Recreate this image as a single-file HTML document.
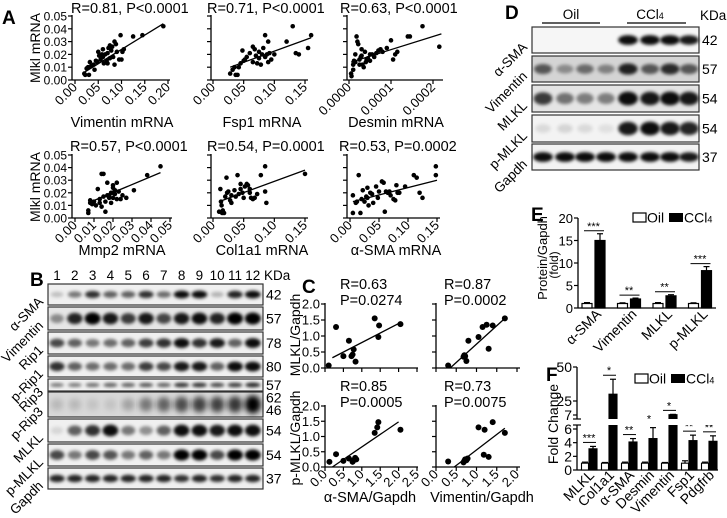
<!DOCTYPE html>
<html><head><meta charset="utf-8">
<style>
html,body{margin:0;padding:0;background:#fff;}
svg{display:block;font-family:"Liberation Sans",Arial,sans-serif;}
</style></head>
<body>
<svg id="fig" width="727" height="518" viewBox="0 0 727 518" xmlns="http://www.w3.org/2000/svg">
<defs><filter id="blur" x="-20%" y="-50%" width="140%" height="200%"><feGaussianBlur stdDeviation="1.6"/></filter>
<filter id="blur2" x="-20%" y="-50%" width="140%" height="200%"><feGaussianBlur stdDeviation="3"/></filter></defs>
</svg>
<script>
// ---------- Panel A data ----------
const a1X=[.02,.022,.025,.028,.03,.032,.035,.04,.042,.045,.048,.05,.052,.055,.058,.06,.062,.065,.068,.07,.072,.075,.075,.078,.08,.082,.085,.088,.09,.095,.098,.1,.102,.105,.125,.145,.19,.06,.07,.085];
const a1Y=[.005,.004,.009,.01,.004,.014,.011,.012,.008,.015,.014,.022,.019,.016,.02,.018,.013,.02,.015,.021,.025,.027,.017,.023,.026,.018,.03,.028,.022,.016,.035,.016,.022,.024,.034,.035,.042,.024,.013,.012];
const a1Fit=[.02,.006,.19,.044];
const a2X=[.028,.032,.035,.037,.04,.042,.045,.048,.05,.052,.055,.06,.065,.068,.07,.072,.075,.078,.08,.082,.085,.085,.088,.09,.09,.092,.095,.1,.12,.13,.135,.14,.155,.16,.065,.075];
const a2Y=[.005,.008,.01,.004,.004,.01,.013,.023,.015,.016,.018,.021,.026,.024,.019,.013,.017,.012,.02,.025,.035,.018,.02,.03,.014,.021,.016,.02,.03,.042,.021,.02,.025,.035,.014,.022];
const a2Fit=[.028,.01,.16,.033];
const a3X=[.05,.06,.1,.1,.12,.15,.18,.2,.22,.25,.25,.28,.3,.32,.35,.38,.4,.42,.45,.5,.55,.6,.65,.7,.75,.8,.9,1.0,1.05,1.1,1.15,1.4,1.45,1.75,2.15,.3,.5,.15];
const a3Y=[.005,.003,.008,.012,.015,.02,.034,.03,.028,.016,.012,.018,.019,.012,.01,.022,.014,.016,.017,.015,.02,.018,.021,.023,.024,.022,.025,.031,.016,.02,.022,.034,.034,.042,.026,.024,.02,.014];
const a3Fit=[.05,.014,2.2,.036];
const a4X=[.007,.007,.008,.008,.009,.01,.011,.012,.013,.014,.015,.016,.017,.018,.019,.02,.021,.022,.023,.015,.016,.014,.017,.018,.019,.02,.021,.022,.024,.025,.027,.031,.038,.045,.013,.02,.02];
const a4Y=[.004,.006,.014,.012,.011,.013,.01,.023,.015,.035,.035,.005,.028,.016,.02,.026,.022,.028,.021,.017,.013,.009,.018,.018,.012,.016,.019,.015,.015,.018,.016,.022,.034,.041,.012,.024,.02];
const a4Fit=[.007,.012,.045,.036];
const a5X=[.01,.012,.013,.014,.015,.016,.018,.02,.022,.023,.025,.028,.03,.035,.037,.04,.042,.045,.048,.05,.052,.055,.057,.06,.062,.065,.068,.072,.078,.085,.085,.087,.15,.03,.06,.045];
const a5Y=[.005,.023,.013,.01,.004,.006,.004,.017,.032,.02,.021,.014,.018,.022,.017,.034,.019,.023,.02,.016,.025,.027,.026,.023,.016,.015,.016,.019,.034,.041,.021,.012,.035,.012,.02,.027];
const a5Fit=[.01,.013,.15,.038];
const a6X=[.005,.005,.01,.012,.015,.018,.02,.022,.025,.028,.03,.032,.035,.038,.04,.045,.048,.05,.055,.058,.06,.062,.068,.07,.075,.078,.08,.082,.085,.095,.11,.115,.12,.125,.148,.148,.03,.065];
const a6Y=[.004,.018,.012,.013,.034,.004,.015,.022,.013,.017,.016,.01,.02,.019,.012,.025,.016,.021,.029,.028,.005,.021,.021,.018,.015,.014,.026,.02,.02,.025,.034,.032,.02,.016,.041,.034,.024,.02];
const a6Fit=[.005,.013,.15,.03];
// ---------- Panel C data ----------
const c1X=[0.1,0.3,0.5,0.65,0.72,0.75,0.78,0.83,1.35,1.45,1.47,2.05];
const c1Y=[0.08,1.28,0.37,0.85,0.37,0.42,0.58,0.2,1.55,0.97,1.33,1.37];
const c1Fit=[0.2,0.32,2.05,1.42];
const c2X=[0.3,0.7,0.72,0.75,0.8,1.05,1.15,1.25,1.3,1.4,1.7,0.68];
const c2Y=[0.08,0.4,0.37,0.22,0.85,0.97,1.28,1.35,0.6,1.33,1.55,0.35];
const c2Fit=[0.35,0,1.7,1.55];
const c3X=[0.12,0.3,0.5,0.65,0.75,0.78,0.82,0.85,1.35,1.42,1.45,2.05];
const c3Y=[0.17,0.42,0.2,0.28,0.17,0.22,0.3,0.25,1.12,1.3,1.47,1.22];
const c3Fit=[0.2,0,2.0,1.48];
const c4X=[0.3,0.68,0.7,0.72,0.78,1.05,1.2,1.18,1.3,1.4,1.7,0.75];
const c4Y=[0.18,0.15,0.2,0.25,0.28,1.3,1.22,0.4,0.33,1.47,1.12,0.22];
const c4Fit=[0.45,0,1.7,1.27];
// ---------- Panel E data ----------
const eCats=['α-SMA','Vimentin','MLKL','p-MLKL'];
const eOil=[1,1,1,1];
const eOilErr=[0.2,0.15,0.2,0.15];
const eCcl=[15,2,2.7,8.3];
const eCclErr=[1.5,0.2,0.25,0.9];
const eStars=['***','**','**','***'];
const eTicks=[0,5,10,15,20];
// ---------- Panel F data ----------
const fCats=['MLKL','Col1a1','α-SMA','Desmin','Vimentin','Fsp1','Pdgfrb'];
const fOil=[1,1,1,1,1,1,1];
const fOilErr=[0.15,0.1,0.15,0.15,0.1,0.35,0.15];
const fCcl=[3.1,30,4.1,4.6,7.4,4.3,4.2];
const fCclErr=[0.35,11,0.5,1.6,0.4,0.8,0.8];
const fStars=['***','*','**','*','*','**','**'];
const fTicksLow=[0,2,4,6];
const fTicksHigh=[7,25,50];

const NS='http://www.w3.org/2000/svg';
const svg=document.getElementById('fig');
function mk(tag,attrs,parent){const e=document.createElementNS(NS,tag);for(const k in attrs)e.setAttribute(k,attrs[k]);(parent||svg).appendChild(e);return e;}
function txt(s,x,y,attrs,parent){const t=mk('text',Object.assign({x:x,y:y},attrs||{}),parent);t.textContent=s;return t;}
function group(name){const g=mk('g',{});


return g;}

// panel letters
[['A',2,24],['B',30,286],['C',302,293],['D',505,19],['E',531,221],['F',546,381]].forEach(function(p){
  const t=txt(p[0],p[1],p[2],{'font-size':19,'font-weight':'bold'});
  
  
});

// ---------- scatter ----------
function scatter(name,P,xs,ys,fit,xT,xTL,yT,yTL,title,xTitle,showXLbl){
  const g=group(name);
  const sx=v=>P.x0+v/P.xMax*(P.x1-P.x0);
  const sy=v=>P.y0-v/P.yMax*(P.y0-P.y1);
  const ya=mk('line',{x1:P.ax,y1:P.y0,x2:P.ax,y2:P.y1-1,stroke:'#000','stroke-width':1.3},g);
  
  
  const xa=mk('line',{x1:P.ax,y1:P.y0,x2:P.xe,y2:P.y0,stroke:'#000','stroke-width':1.3},g);
  
  
  yT.forEach(function(v,i){
    mk('line',{x1:P.ax-4,y1:sy(v),x2:P.ax,y2:sy(v),stroke:'#000','stroke-width':1.2},g);
    if(yTL){const t=txt(yTL[i],P.ax-5,sy(v)+4.5,{'font-size':P.yfs||P.fs||13,'text-anchor':'end'},g);
      
      }
  });
  xT.forEach(function(v,i){
    mk('line',{x1:sx(v),y1:P.y0,x2:sx(v),y2:P.y0+4,stroke:'#000','stroke-width':1.2},g);
    if(showXLbl){const t=txt(xTL[i],sx(v)+3,P.y0+8,{'font-size':P.fs||13,'text-anchor':'end',transform:'rotate(-45 '+(sx(v)+3)+' '+(P.y0+8)+')'},g);
      
      }
  });
  xs.forEach(function(v,i){
    const c=mk('circle',{cx:sx(v),cy:sy(ys[i]),r:P.r||2.3,fill:'#000'},g);
    
    
  });
  const l=mk('line',{x1:sx(fit[0]),y1:sy(fit[1]),x2:sx(fit[2]),y2:sy(fit[3]),stroke:'#000','stroke-width':1.3},g);
  
  
  if(title){title.forEach(function(s,k){
    const t=txt(s,P.tx,P.ty+k*16,{'font-size':P.tfs||14.5},g);
    
    });}
  if(xTitle){const t=txt(xTitle,P.xtx,P.xty,{'font-size':P.xfs||14.5,'text-anchor':'middle'},g);
    
    }
}
const yA=[0,.01,.02,.03,.04,.05], yAL=['0.00','0.01','0.02','0.03','0.04','0.05'];
scatter('scatter-vimentin',{ax:72,x0:75,x1:168,xMax:.2,xe:170,y0:80,y1:16,yMax:.05,yfs:12,tx:71,ty:13,xtx:122,xty:127},a1X,a1Y,a1Fit,[0,.05,.1,.15,.2],['0.00','0.05','0.10','0.15','0.20'],yA,yAL,['R=0.81, P<0.0001'],'Vimentin mRNA',true);
scatter('scatter-fsp1',{ax:211,x0:213,x1:305,xMax:.15,xe:308,y0:80,y1:16,yMax:.05,tx:207,ty:13,xtx:262,xty:127},a2X,a2Y,a2Fit,[0,.05,.1,.15],['0.00','0.05','0.10','0.15'],yA,null,['R=0.71, P<0.0001'],'Fsp1 mRNA',true);
scatter('scatter-desmin',{ax:347,x0:349,x1:433,xMax:2,xe:443,y0:80,y1:16,yMax:.05,tx:340,ty:13,xtx:396,xty:127},a3X,a3Y,a3Fit,[0,1,2],['0.0000','0.0001','0.0002'],yA,null,['R=0.63, P<0.0001'],'Desmin mRNA',true);
scatter('scatter-mmp2',{ax:72,x0:75,x1:170,xMax:.05,xe:172,y0:218,y1:155,yMax:.05,yfs:12,tx:70,ty:151,xtx:122,xty:255},a4X,a4Y,a4Fit,[0,.01,.02,.03,.04,.05],['0.00','0.01','0.02','0.03','0.04','0.05'],yA,yAL,['R=0.57, P<0.0001'],'Mmp2 mRNA',true);
scatter('scatter-col1a1',{ax:211,x0:213,x1:305,xMax:.15,xe:308,y0:218,y1:155,yMax:.05,tx:207,ty:151,xtx:262,xty:255},a5X,a5Y,a5Fit,[0,.05,.1,.15],['0.00','0.05','0.10','0.15'],yA,null,['R=0.54, P=0.0001'],'Col1a1 mRNA',true);
scatter('scatter-asma',{ax:347,x0:350,x1:437,xMax:.15,xe:440,y0:218,y1:155,yMax:.05,tx:339,ty:151,xtx:396,xty:255},a6X,a6Y,a6Fit,[0,.05,.1,.15],['0.00','0.05','0.10','0.15'],yA,null,['R=0.53, P=0.0002'],'α-SMA mRNA',true);
[[48,'mlkl-mrna-axis-title-top'],[187,'mlkl-mrna-axis-title-bottom']].forEach(function(p){
  const t=txt('Mlkl mRNA',40,p[0],{'font-size':14,'text-anchor':'middle',transform:'rotate(-90 40 '+p[0]+')'});
  
  
});

// ---------- Panel C ----------
const yC=[0,.5,1,1.5,2], yCL=['0.0','0.5','1.0','1.5','2.0'];
scatter('scatter-asma-mlkl',{ax:325,x0:325,x1:417,xMax:2.5,xe:418,y0:368,y1:304,yMax:2,r:3,tx:340,ty:289,fs:13,tfs:14.5},c1X,c1Y,c1Fit,[0,.5,1,1.5,2,2.5],null,yC,yCL,['R=0.63','P=0.0274'],null,false);
scatter('scatter-vimentin-mlkl',{ax:436,x0:436,x1:517,xMax:2,xe:520,y0:368,y1:304,yMax:2,r:3,tx:444,ty:289,fs:13,tfs:14.5},c2X,c2Y,c2Fit,[0,.5,1,1.5,2],null,yC,null,['R=0.87','P=0.0002'],null,false);
scatter('scatter-asma-pmlkl',{ax:325,x0:325,x1:417,xMax:2.5,xe:418,y0:467,y1:406,yMax:2,r:3,tx:340,ty:391,fs:13,tfs:14.5,xtx:370,xty:502},c3X,c3Y,c3Fit,[0,.5,1,1.5,2,2.5],['0.0','0.5','1.0','1.5','2.0','2.5'],yC,yCL,['R=0.85','P=0.0005'],'α-SMA/Gapdh',true);
scatter('scatter-vimentin-pmlkl',{ax:436,x0:436,x1:517,xMax:2,xe:520,y0:467,y1:406,yMax:2,r:3,tx:444,ty:391,fs:13,tfs:14.5,xtx:482,xty:502},c4X,c4Y,c4Fit,[0,.5,1,1.5,2],['0.0','0.5','1.0','1.5','2.0'],yC,null,['R=0.73','P=0.0075'],'Vimentin/Gapdh',true);
[[335,'MLKL/Gapdh','mlkl-gapdh-axis-title'],[438,'p-MLKL/Gapdh','pmlkl-gapdh-axis-title']].forEach(function(p){
  const t=txt(p[1],300,p[0],{'font-size':14,'text-anchor':'middle',transform:'rotate(-90 300 '+p[0]+')'});
  
  
});

// ---------- Blots ----------
function blot(name,x,y,w,h,lanes,ints,bh,bw,bg,diffuse){
  const g=group(name);
  mk('rect',{x:x,y:y,width:w,height:h,fill:bg||'#f2f2f2',stroke:'#333','stroke-width':1.2},g);
  lanes.forEach(function(cx,i){
    if(ints[i]<=0)return;
    const e=mk('ellipse',{cx:cx,cy:y+h/2,rx:bw*(0.75+0.25*ints[i]),ry:bh*(0.6+0.4*ints[i]),fill:'#000','fill-opacity':Math.min(1,ints[i]),filter:diffuse?'url(#blur2)':'url(#blur)'},g);
    
    
  });
}
const bLanes=[];for(let i=0;i<12;i++)bLanes.push(57+i*17.8);
const bRows=[
 ['α-SMA',284,21,[.2,.5,.8,.6,.6,.8,.55,.95,.95,.25,.85,.95],4,'42'],
 ['Vimentin',307,23,[.4,.85,1,.9,.75,.9,.7,.9,.95,.85,1,1],6,'57'],
 ['Rip1',332,22,[.7,.6,.5,.55,.6,.75,.8,.95,.8,.9,.6,.95],5,'78'],
 ['p-Rip1',356,21,[.8,.6,.55,.55,.55,.75,.7,.9,.9,.6,.95,.95],5,'80'],
 ['Rip3',379,12,[.5,.5,.55,.6,.6,.65,.6,.8,.8,.7,.75,.85],2.5,'57'],
 ['p-Rip3',392,25,[.15,.15,.1,.1,.25,.45,.55,.65,.7,.7,.75,1],9,'62'],
 ['MLKL',419,23,[.1,.6,.8,.95,.5,.4,.6,.95,.95,.9,.95,.95],6,'54'],
 ['p-MLKL',444,22,[.7,.5,.7,.65,.5,.6,.5,1,1,.7,1,1],5.5,'54'],
 ['Gapdh',468,21,[.85,.85,.85,.85,.85,.85,.85,.8,.85,.8,.85,.85],4,'37']];
bRows.forEach(function(r,ri){
  blot('blot-b-'+r[0].toLowerCase(),48,r[1],215,r[2],bLanes,r[3],r[4],8,ri===5?'#d8d8d8':(ri===1?'#e6e6e6':'#f0f0f0'),ri===5);
  const lx=44, ly=r[1]+r[2]/2+8;
  const t=txt(r[0],lx,ly,{'font-size':13.5,'text-anchor':'end',transform:'rotate(-45 '+lx+' '+ly+')'});
  
  
  const k=txt(r[5],266,r[1]+r[2]/2+(ri===5?-2:5),{'font-size':14});
  
  
});
const k46=txt('46',266,415,{'font-size':14});


bLanes.forEach(function(x,i){
  const t=txt(String(i+1),x,280,{'font-size':13.5,'text-anchor':'middle'});
  
  
});
const kb=txt('KDa',264,280,{'font-size':13.5});



// Panel D
const dLanes=[543,565,585,606,628,650,670,689];
const dRows=[
 ['α-SMA',27,26,[0,0,0,0,.95,.95,.95,.9],5,'42','#f6f6f6'],
 ['Vimentin',56,26,[.6,.35,.5,.4,.85,.6,.8,.6],6,'57','#d4d4d4'],
 ['MLKL',85,27,[.75,.5,.45,.45,.95,.9,.95,.9],7,'54','#e4e4e4'],
 ['p-MLKL',115,27,[.1,.12,.1,.08,.9,.95,.9,.85],7,'54','#f3f3f3'],
 ['Gapdh',144,26,[.95,.95,.95,.95,.95,.95,.95,.9],5,'37','#f3f3f3']];
dRows.forEach(function(r){
  blot('blot-d-'+r[0].toLowerCase(),532,r[1],167,r[2],dLanes,r[3],r[4],10,r[6],false);
  const lx=528, ly=r[1]+r[2]/2+8;
  const t=txt(r[0],lx,ly,{'font-size':13.5,'text-anchor':'end',transform:'rotate(-45 '+lx+' '+ly+')'});
  
  
  const k=txt(r[5],702,r[1]+r[2]/2+5,{'font-size':14});
  
  
});
const kd=txt('KDa',700,20,{'font-size':13.5});


const oilL=mk('line',{x1:542,y1:23,x2:600,y2:23,stroke:'#000','stroke-width':1.2});


const cclL=mk('line',{x1:627,y1:23,x2:686,y2:23,stroke:'#000','stroke-width':1.2});


const oilT=txt('Oil',571,19,{'font-size':13.5,'text-anchor':'middle'});


const cclT=txt('CCl',650,19,{'font-size':13.5,'text-anchor':'middle'});


mk('tspan',{'font-size':9},cclT).textContent='4';

// legend helper
function legend(name,x,y){
  const g=group(name);
  const o=mk('rect',{x:x,y:y-5,width:13,height:9,fill:'#fff',stroke:'#000','stroke-width':1.2},g);
  
  
  const t1=txt('Oil',x+14,y+4.5,{'font-size':14},g);
  
  
  const c=mk('rect',{x:x+36,y:y-5,width:14,height:9,fill:'#000'},g);
  
  
  const t2=txt('CCl',x+51,y+4.5,{'font-size':14},g);
  
  
  mk('tspan',{'font-size':9},t2).textContent='4';
}

// ---------- Panel E ----------
(function(){
  const g=group('bar-chart-e');
  const ax=578, y0=308, y20=218;
  const sy=v=>y0-v/20*(y0-y20);
  const ya=mk('line',{x1:ax,y1:y0,x2:ax,y2:y20,stroke:'#000','stroke-width':1.3},g);
  
  
  const xa=mk('line',{x1:ax,y1:y0,x2:716,y2:y0,stroke:'#000','stroke-width':1.3},g);
  
  
  eTicks.forEach(function(v){
    mk('line',{x1:ax-4,y1:sy(v),x2:ax,y2:sy(v),stroke:'#000','stroke-width':1.2},g);
    const t=txt(String(v),ax-5,sy(v)+5,{'font-size':13,'text-anchor':'end'},g);
    
    
  });
  eCats.forEach(function(c,i){
    const xo=587+35.5*i, xc=xo+13;
    [[xo,eOil[i],eOilErr[i],'#fff','bar-oil'],[xc,eCcl[i],eCclErr[i],'#000','bar-ccl4']].forEach(function(b){
      const e=mk('line',{x1:b[0],y1:sy(b[1]),x2:b[0],y2:sy(b[1]+b[2]),stroke:'#000','stroke-width':1.2},g);
      
      
      mk('line',{x1:b[0]-3,y1:sy(b[1]+b[2]),x2:b[0]+3,y2:sy(b[1]+b[2]),stroke:'#000','stroke-width':1.2},g);
      const r=mk('rect',{x:b[0]-5,y:sy(b[1]),width:10,height:y0-sy(b[1]),fill:b[3],stroke:'#000','stroke-width':1.2},g);
      
      
    });
    const st=sy(eCcl[i]+eCclErr[i])-3;
    mk('line',{x1:xo-3,y1:st,x2:xc+4,y2:st,stroke:'#000','stroke-width':1},g);
    const s=txt(eStars[i],(xo+xc)/2,st-1,{'font-size':11,'text-anchor':'middle'},g);
    
    
    const lx=xc+2, ly=315;
    const t=txt(c,lx,ly,{'font-size':14,'text-anchor':'end',transform:'rotate(-45 '+lx+' '+ly+')'},g);
    
    
  });
  const t1=txt('Protein/Gapdh',547,258,{'font-size':13,'text-anchor':'middle',transform:'rotate(-90 547 258)'});
  
  
  const t2=txt('(fold)',558,265,{'font-size':12,'text-anchor':'middle',transform:'rotate(-90 558 265)'});
  
  
  legend('legend-e',633,218);
})();

// ---------- Panel F ----------
(function(){
  const g=group('bar-chart-f');
  const ax=577, y0=470, y6=429;
  function sy(v){
    if(v<=6.3) return y0-v/6*(y0-y6);
    if(v<=25) return 415-(v-7)/18*14;
    return 401-(v-25)/25*34;
  }
  const ya=mk('line',{x1:ax,y1:y0,x2:ax,y2:367,stroke:'#000','stroke-width':1.3},g);
  
  
  const xa=mk('line',{x1:ax,y1:y0,x2:718,y2:y0,stroke:'#000','stroke-width':1.3},g);
  
  
  fTicksLow.concat(fTicksHigh).forEach(function(v){
    mk('line',{x1:ax-4,y1:sy(v),x2:ax,y2:sy(v),stroke:'#000','stroke-width':1.2},g);
    const t=txt(String(v),ax-5,sy(v)+5,{'font-size':14,'text-anchor':'end'},g);
    
    
  });
  fCats.forEach(function(c,i){
    const xo=585+20*i, xc=xo+8;
    [[xo,fOil[i],fOilErr[i],'#fff','bar-oil',7],[xc,fCcl[i],fCclErr[i],'#000','bar-ccl4',8]].forEach(function(b){
      const e=mk('line',{x1:b[0],y1:sy(b[1]),x2:b[0],y2:sy(b[1]+b[2]),stroke:'#000','stroke-width':1.2},g);
      
      
      mk('line',{x1:b[0]-3,y1:sy(b[1]+b[2]),x2:b[0]+3,y2:sy(b[1]+b[2]),stroke:'#000','stroke-width':1.2},g);
      const r=mk('rect',{x:b[0]-b[5]/2,y:sy(b[1]),width:b[5],height:y0-sy(b[1]),fill:b[3],stroke:'#000','stroke-width':1.1},g);
      
      
    });
    const st=sy(fCcl[i]+fCclErr[i])-4;
    mk('line',{x1:xo-2,y1:st,x2:xc+3,y2:st,stroke:'#000','stroke-width':1},g);
    const s=txt(fStars[i],(xo+xc)/2,st-1,{'font-size':11,'text-anchor':'middle'},g);
    
    
    const lx=xc+2, ly=476;
    const t=txt(c,lx,ly,{'font-size':14,'text-anchor':'end',transform:'rotate(-45 '+lx+' '+ly+')'},g);
    
    
  });
  const br=mk('rect',{x:571,y:419,width:150,height:6,fill:'#fff'},g);
  
  
  mk('line',{x1:573,y1:419,x2:581,y2:419,stroke:'#000','stroke-width':1.2},g);
  mk('line',{x1:573,y1:425,x2:581,y2:425,stroke:'#000','stroke-width':1.2},g);
  const t1=txt('Fold Change',558,424,{'font-size':14,'text-anchor':'middle',transform:'rotate(-90 558 424)'});
  
  
  legend('legend-f',635,379);
})();
</script>
</body></html>
